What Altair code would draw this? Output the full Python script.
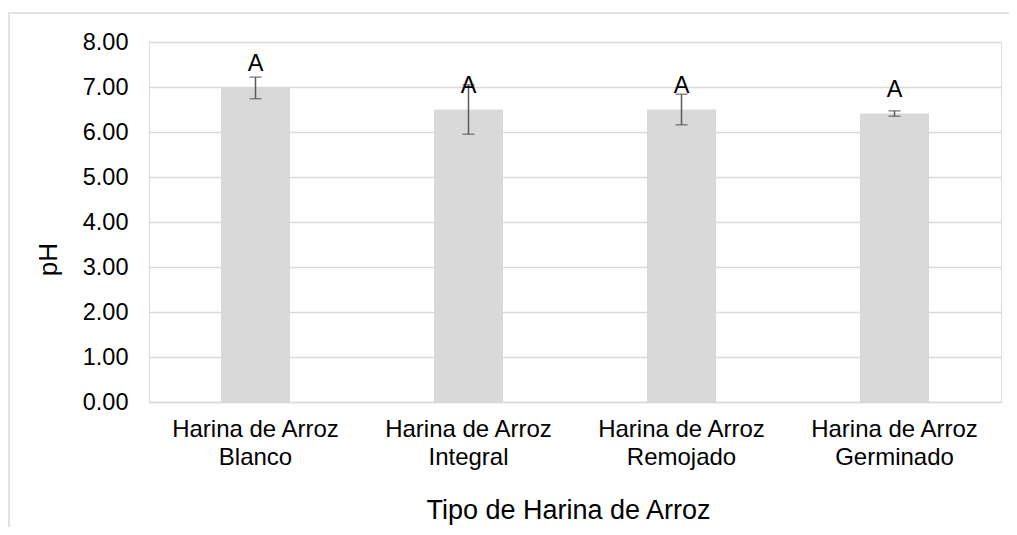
import altair as alt
import pandas as pd

categories = ["Harina de Arroz|Blanco", "Harina de Arroz|Integral",
              "Harina de Arroz|Remojado", "Harina de Arroz|Germinado"]
ph_values = [6.98, 6.50, 6.50, 6.41]
ph_errors = [0.24, 0.55, 0.34, 0.06]
letters = ["A", "A", "A", "A"]

df = pd.DataFrame({
    "cat": categories,
    "ph": ph_values,
    "lo": [v - e for v, e in zip(ph_values, ph_errors)],
    "hi": [v + e for v, e in zip(ph_values, ph_errors)],
    "letter": letters,
})

FONT = "Liberation Sans"
GRID = "#D9D9D9"

x_enc = alt.X(
    "cat:N", sort=categories,
    scale=alt.Scale(paddingInner=0.676, paddingOuter=0.338),
    axis=alt.Axis(
        title="Tipo de Harina de Arroz",
        labelExpr="split(datum.value, '|')",
        labelAngle=0, labelFont=FONT, labelFontSize=24, labelColor="#000",
        labelLineHeight=28, labelPadding=15, labelBaseline="top",
        ticks=False, tickSize=0,
        domain=True, domainColor=GRID, domainWidth=1.5,
        titleFont=FONT, titleFontSize=27, titleFontWeight="normal", titleColor="#000",
        titleX=419, titleY=108, titleBaseline="middle", titleAlign="center",
    ),
)
y_scale = alt.Scale(domain=[0, 8], nice=False)

base = alt.Chart(df)

bars = base.mark_bar(color="#D9D9D9").encode(
    x=x_enc,
    y=alt.Y("ph:Q", scale=y_scale, axis=alt.Axis(
        title="pH", values=[0, 1, 2, 3, 4, 5, 6, 7, 8], format=".2f",
        labelFont=FONT, labelFontSize=23.5, labelColor="#000", labelPadding=21,
        ticks=False, tickSize=0, domain=False,
        grid=True, gridColor=GRID, gridWidth=1.5,
        titleFont=FONT, titleFontSize=26, titleFontWeight="normal", titleColor="#000",
        titleX=-101, titleY=217, titleBaseline="middle", titleAlign="center", titleAngle=-90,
    )),
)

rules = base.mark_rule(color="#5A5A5A", strokeWidth=1.5).encode(
    x=alt.X("cat:N", sort=categories), y="lo:Q", y2="hi:Q",
)
caps_lo = base.mark_tick(color="#5A5A5A", thickness=1.5, size=12, orient="horizontal").encode(
    x=alt.X("cat:N", sort=categories), y="lo:Q",
)
caps_hi = base.mark_tick(color="#5A5A5A", thickness=1.5, size=12, orient="horizontal").encode(
    x=alt.X("cat:N", sort=categories), y="hi:Q",
)
labels = base.mark_text(font=FONT, fontSize=23.5, color="#000", baseline="bottom", dy=-12).encode(
    x=alt.X("cat:N", sort=categories), y="ph:Q", text="letter:N",
)

border = alt.Chart(alt.Data(values=[{"k": 1}])).mark_rect(
    fill=None, stroke=GRID, strokeWidth=1.5
).encode(
    x=alt.value(-140), x2=alt.value(1000), y=alt.value(-29), y2=alt.value(700),
)

chart = alt.layer(border, bars, rules, caps_lo, caps_hi, labels).properties(
    width=852, height=360,
    autosize=alt.AutoSizeParams(type="none"),
    padding={"left": 141, "top": 34, "right": 8, "bottom": 125},
).configure_view(stroke=None).configure(background="white")

chart.save("out.html", embed_options={"renderer": "svg", "actions": False})
